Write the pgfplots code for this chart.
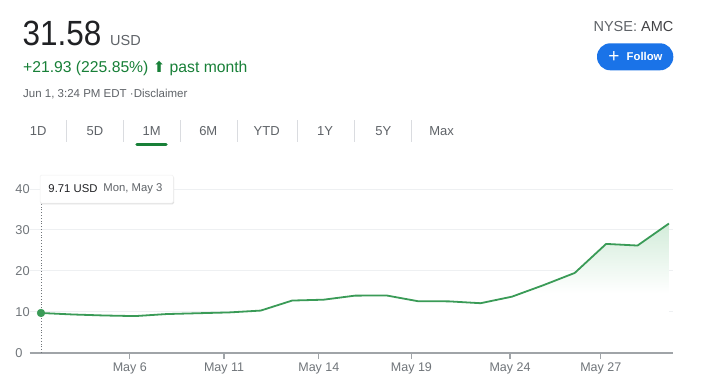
\documentclass[border=0pt]{standalone}
\usepackage{fontspec}
\setmainfont{Liberation Sans}
\newfontfamily\dejavu{DejaVu Sans}
\usepackage{pgfplots}
\pgfplotsset{compat=1.18}
\usepackage{pgfplotstable}
\definecolor{txtdark}{HTML}{202124}
\definecolor{txtgray}{HTML}{5F6368}
\definecolor{tickgray}{HTML}{70757A}
\definecolor{upgreen}{HTML}{188038}
\definecolor{linegreen}{HTML}{3A9B57}
\definecolor{fillgreen}{HTML}{D3ECDA}
\definecolor{btnblue}{HTML}{1A73E8}
\definecolor{sepgray}{HTML}{DADCE0}
\definecolor{axisgray}{HTML}{A0A4A8}
\definecolor{gridgray}{HTML}{EEF0F2}
\pgfdeclareverticalshading{fadegreen}{100bp}{color(0bp)=(white); color(25bp)=(white); color(48bp)=(white); color(75bp)=(fillgreen); color(100bp)=(fillgreen)}
\pgfplotstableread{
idx price
0 9.71
1 9.35
2 9.10
3 8.95
4 9.45
5 9.65
6 9.85
7 10.30
8 12.75
9 12.96
10 13.95
11 14.00
12 12.60
13 12.55
14 12.10
15 13.70
16 16.50
17 19.50
18 26.60
19 26.20
20 31.58
}\pricedata
\newcommand{\fs}[1]{\fontsize{#1bp}{#1bp}\selectfont}
\begin{document}
\begin{tikzpicture}
\path[use as bounding box, fill=white] (0,0) rectangle (718bp,-390bp);
\begin{axis}[
  at={(30bp,-352.7bp)}, anchor=south west,
  scale only axis, width=643bp, height=171.8bp,
  xmin=-0.35, xmax=20.13, ymin=0, ymax=42,
  axis line style={draw=none},
  ymajorgrids, major grid style={draw=gridgray, line width=1bp},
  ytick={0,10,20,30,40},
  ytick style={draw=none},
  ytick pos=left,
  yticklabel style={anchor=west, inner sep=0pt, xshift=-8.3bp, font=\fs{12.8}, text=tickgray},
  xtick={2.83,5.83,8.85,11.8,14.94,17.83},
  xticklabels={May 6,May 11,May 14,May 19,May 24,May 27},
  xtick pos=bottom,
  tick align=outside,
  major tick length=6.5bp,
  xtick style={draw=axisgray, line width=1.2bp},
  xticklabel style={font=\fs{12.5}, text=tickgray, inner sep=0pt, yshift=-3bp},
  /pgf/number format/assume math mode=true,
  clip=false,
]
\addplot[draw=none, shading=fadegreen, forget plot] table[x=idx,y=price]{\pricedata} \closedcycle;
\draw[axisgray, line width=1.6bp] (rel axis cs:0,0) -- (rel axis cs:1,0);
\addplot[color=linegreen, line width=1.8bp, line join=round] table[x=idx,y=price]{\pricedata};
\draw[tickgray, dotted, line width=0.8bp] (axis cs:0,0) -- (axis cs:0,37.3);
\addplot[only marks, mark=*, mark size=3.9bp, color=linegreen] coordinates {(0,9.71)};
\end{axis}
\begin{scope}[x=1bp,y=-1bp]
% header
\node[anchor=base west, inner sep=0pt, text=txtdark] at (22.5,45) {\fs{35}\scalebox{0.9}[1]{31.58}};
\node[anchor=base west, inner sep=0pt, text=txtgray] at (110,45) {\fs{14.5}USD};
\node[anchor=base west, inner sep=0pt, text=upgreen] at (23,72) {\fs{15.7}+21.93 (225.85\%) {\dejavu\fs{15}⬆} past month};
\node[anchor=base west, inner sep=0pt, text=txtgray] at (23,97.6) {\fs{11.5}Jun 1, 3:24 PM EDT ·Disclaimer};
\node[anchor=base east, inner sep=0pt, text=txtgray] at (673.5,31.8) {\fs{14.5}NYSE: {\color{txtdark!85}AMC}};
\fill[btnblue, rounded corners=13.3bp] (597,43.3) rectangle (673.3,70.3);
\node[anchor=center, inner sep=0pt, text=white] at (614,57) {\fs{19}+};
\node[anchor=west, inner sep=0pt, text=white] at (626.5,56.8) {\fs{11.3}\bfseries Follow};
% tabs
\foreach \x/\t in {38.3/1D,95/5D,151.7/1M,208.3/6M,266.7/YTD,325/1Y,383.3/5Y,441.7/Max}
  \node[anchor=center, inner sep=0pt, text=txtgray] at (\x,131) {\fs{13}\t};
\foreach \x in {66.7,123.3,180.7,237.7,297.7,354.3,411.7}
  \draw[sepgray, line width=0.8bp] (\x,120) -- (\x,142);
\draw[upgreen, line width=3.5bp, line cap=round] (137,144.7) -- (166,144.7);
% tooltip
\fill[black!12, rounded corners=1.5bp] (40.3,176) rectangle (174,204.3);
\fill[white, draw=black!6, line width=0.5bp, rounded corners=1.5bp] (40,175) rectangle (173.3,203);
\node[anchor=west, inner sep=0pt, text=txtdark] at (48.3,189) {\fs{11.3}9.71 USD};
\node[anchor=west, inner sep=0pt, text=txtgray] at (103.3,189) {\fs{11.3}Mon, May 3};
\end{scope}
\end{tikzpicture}
\end{document}
